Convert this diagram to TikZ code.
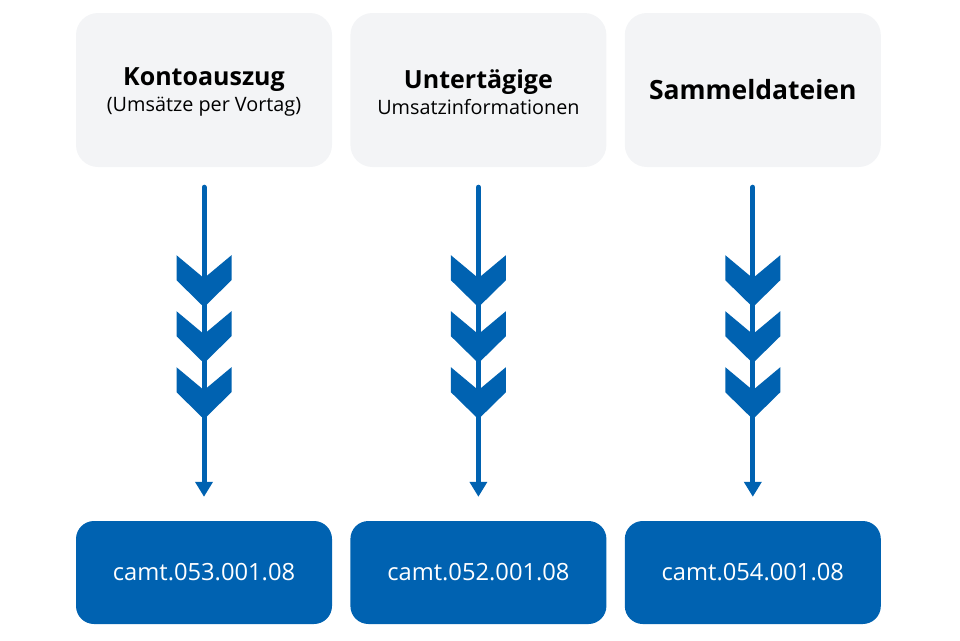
\documentclass[tikz,border=0pt]{standalone}
\usepackage{fontspec}
\setmainfont{Open Sans}
\usetikzlibrary{positioning,calc,arrows.meta}
\definecolor{camtblue}{RGB}{0, 98, 177}
\definecolor{boxgray}{RGB}{243, 244, 246}

\tikzset{
  infobox/.style={fill=boxgray, rounded corners=22pt, minimum width=256pt,
    minimum height=154pt, align=center, inner sep=0pt},
  boxtext/.style={align=center, inner sep=0pt},
  camtbox/.style={fill=camtblue, rounded corners=18pt, minimum width=256pt,
    minimum height=103pt, text=white, inner sep=0pt,
    font=\fontsize{23.7}{28}\selectfont},
  flow/.style={draw=camtblue, line width=5pt, line cap=round,
    -{Triangle[width=17pt,length=15pt]}},
}
\newcommand{\titleline}{\fontsize{25}{29}\selectfont\bfseries}
\newcommand{\subline}{\fontsize{19.8}{24}\selectfont}

\begin{document}
\begin{tikzpicture}[x=1pt,y=-1pt]
  \useasboundingbox (0,0) rectangle (960,640);

  % Message types (top row)
  \node[infobox] (konto) at (204,90) {};
  \node[infobox, right=18pt of konto] (intraday) {};
  \node[infobox, right=18pt of intraday] (sammel)
    {{\fontsize{26.5}{30}\selectfont\bfseries Sammeldateien}};
  \node[boxtext] (konto-text) at ($(konto.center)+(0,2)$)
    {{\titleline Kontoauszug}\\[4pt]{\subline(Umsätze per Vortag)}};
  \node[boxtext] (intraday-text) at ($(intraday.center)+(0,2)$)
    {{\titleline Untertägige}\\[4pt]{\subline Umsatzinformationen}};

  % camt formats (bottom row)
  \node[camtbox] (c053) at (204,572.5) {camt.053.001.08};
  \node[camtbox, right=18pt of c053] (c052) {camt.052.001.08};
  \node[camtbox, right=18pt of c052] (c054) {camt.054.001.08};

  % Arrows with chevrons
  \foreach \src/\dst in {konto/c053, intraday/c052, sammel/c054}{
    \draw[flow] ($(\src.south)+(0,20)$) -- ($(\dst.north)+(0,-24)$);
    \foreach \k in {0,1,2}
      \fill[camtblue] ($(\src.south)+(0,{88+56*\k})$) ++(-27.5,0) -- ++(27.5,23)
        -- ++(27.5,-23) -- ++(0,25) -- ++(-27.5,27) -- ++(-27.5,-27) -- cycle;
  }
\end{tikzpicture}
\end{document}
